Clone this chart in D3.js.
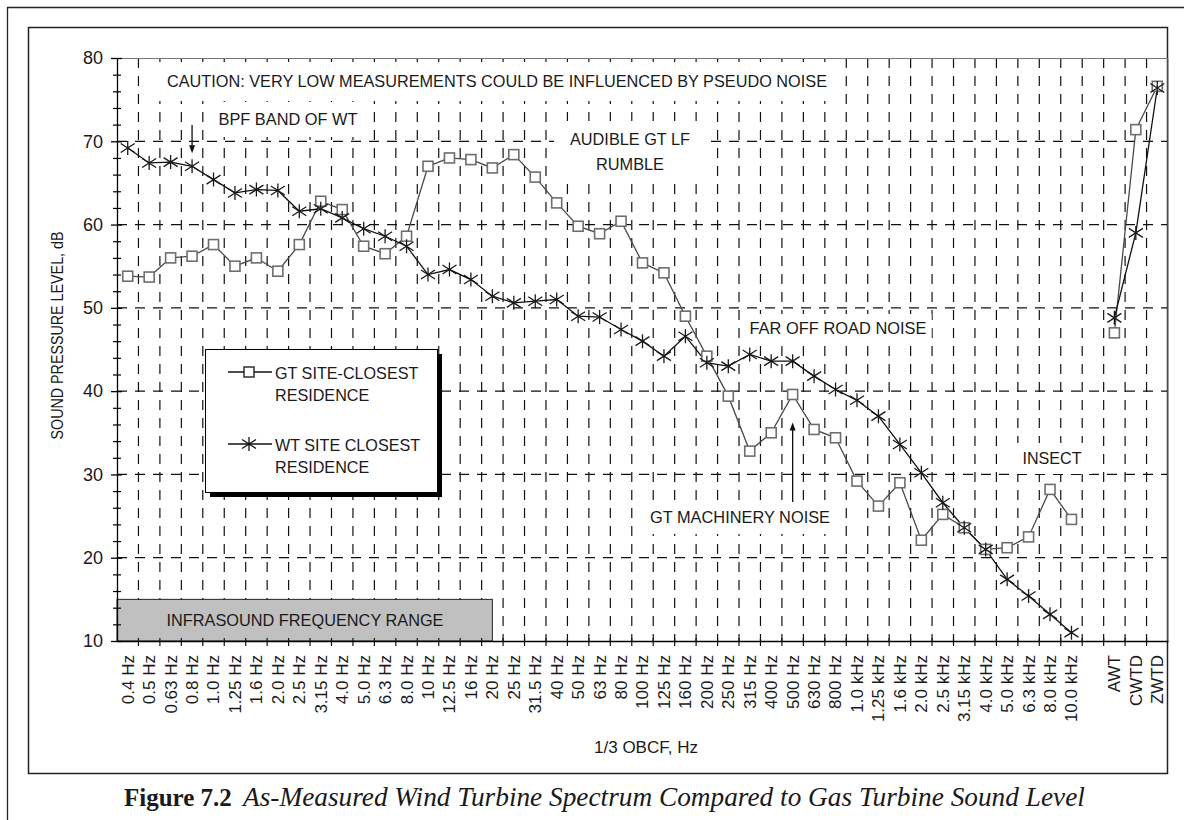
<!DOCTYPE html>
<html>
<head>
<meta charset="utf-8">
<script src="https://cdn.jsdelivr.net/npm/d3@7"></script>
<style>
  body { margin: 0; background: #fff; }
  svg text { font-family: "Liberation Sans Narrow", "Arial Narrow", "Liberation Sans", Arial, sans-serif; fill: #1a1a1a; }
  svg text.cap { font-family: "Liberation Serif", "Times New Roman", serif; }
</style>
</head>
<body>
<div id="chart"></div>
<script>
// 1/3 octave band centre frequencies, then a blank slot and the weighted totals
var bands = ["0.4 Hz", "0.5 Hz", "0.63 Hz", "0.8 Hz", "1.0 Hz", "1.25 Hz", "1.6 Hz", "2.0 Hz", "2.5 Hz", "3.15 Hz",
  "4.0 Hz", "5.0 Hz", "6.3 Hz", "8.0 Hz", "10 Hz", "12.5 Hz", "16 Hz", "20 Hz", "25 Hz", "31.5 Hz",
  "40 Hz", "50 Hz", "63 Hz", "80 Hz", "100 Hz", "125 Hz", "160 Hz", "200 Hz", "250 Hz", "315 Hz",
  "400 Hz", "500 Hz", "630 Hz", "800 Hz", "1.0 kHz", "1.25 kHz", "1.6 kHz", "2.0 kHz", "2.5 kHz", "3.15 kHz",
  "4.0 kHz", "5.0 kHz", "6.3 kHz", "8.0 kHz", "10.0 kHz", "", "AWT", "CWTD", "ZWTD"];

// GT site - closest residence (dB)
var gtLevels = [53.8, 53.7, 56.0, 56.2, 57.6, 55.0, 56.0, 54.4, 57.6, 62.8,
  61.8, 57.4, 56.5, 58.6, 67.0, 68.0, 67.8, 66.8, 68.4, 65.7,
  62.6, 59.8, 58.9, 60.4, 55.4, 54.2, 49.0, 44.2, 39.4, 32.8,
  35.0, 39.6, 35.4, 34.4, 29.2, 26.2, 29.0, 22.1, 25.2, 23.6,
  21.0, 21.2, 22.5, 28.2, 24.6, null, 47.0, 71.4, 76.6];

// WT site closest residence (dB)
var wtLevels = [69.2, 67.4, 67.5, 67.0, 65.4, 63.8, 64.2, 64.1, 61.6, 61.9,
  60.8, 59.5, 58.6, 57.4, 54.0, 54.6, 53.4, 51.4, 50.6, 50.8,
  51.0, 49.0, 48.9, 47.4, 46.0, 44.2, 46.6, 43.4, 43.0, 44.4,
  43.6, 43.6, 41.8, 40.2, 38.9, 37.0, 33.6, 30.2, 26.6, 23.6,
  21.0, 17.4, 15.4, 13.2, 11.0, null, 48.8, 59.0, 76.4];

var yMajor = [10, 20, 30, 40, 50, 60, 70, 80];
var seriesNames = ["GT SITE-CLOSEST\nRESIDENCE", "WT SITE CLOSEST\nRESIDENCE"];

var svgWidth = 1184;
var svgHeight = 820;
var margin = { top: 58, right: 16, bottom: 179, left: 117 };
var width = svgWidth - margin.left - margin.right;
var height = svgHeight - margin.top - margin.bottom;

var svg = d3.select("#chart").append("svg")
  .attr("width", svgWidth)
  .attr("height", svgHeight);

// squeeze a text to a given length (the original uses a narrow face)
function fit(sel, len) {
  sel.attr("textLength", len).attr("lengthAdjust", "spacingAndGlyphs");
}

// page frames
svg.append("path")
  .attr("d", "M7.5,820 V7.5 H1184")
  .attr("fill", "none").attr("stroke", "#222").attr("stroke-width", 1.3);
svg.append("rect")
  .attr("x", 28.5).attr("y", 27.5).attr("width", 1139).attr("height", 746)
  .attr("fill", "none").attr("stroke", "#222").attr("stroke-width", 1.5);

var chartGroup = svg.append("g")
  .attr("transform", `translate(${margin.left}, ${margin.top})`);

var x = d3.scaleBand().domain(bands).range([0, width]);
var y = d3.scaleLinear().domain([10, 80]).range([height, 0]);
var cx = b => x(b) + x.bandwidth() / 2;

// grid
chartGroup.append("g").selectAll("line")
  .data(bands.slice(1))
  .enter().append("line")
  .attr("x1", d => x(d)).attr("x2", d => x(d))
  .attr("y1", 0).attr("y2", height)
  .attr("stroke", "#111").attr("stroke-width", 1.2)
  .attr("stroke-dasharray", "10,8");

chartGroup.append("g").selectAll("line")
  .data(yMajor.slice(1, -1))
  .enter().append("line")
  .attr("x1", 0).attr("x2", width)
  .attr("y1", d => y(d)).attr("y2", d => y(d))
  .attr("stroke", "#111").attr("stroke-width", 1.2)
  .attr("stroke-dasharray", "10,8");

// top and right border of plot
chartGroup.append("path")
  .attr("d", `M0,0.5 H${width} V${height}`)
  .attr("fill", "none").attr("stroke", "#777").attr("stroke-width", 1);

// infrasound range box
chartGroup.append("rect")
  .attr("x", 0).attr("y", y(15))
  .attr("width", cx("20 Hz")).attr("height", height - y(15))
  .attr("fill", "#c0c0c0").attr("stroke", "#222").attr("stroke-width", 1);
chartGroup.append("text")
  .attr("x", 188).attr("y", (y(15) + height) / 2)
  .attr("dy", "0.36em").attr("text-anchor", "middle")
  .style("font-size", "17px")
  .text("INFRASOUND FREQUENCY RANGE")
  .call(fit, 277);

// annotations with white text boxes
var notes = [
  { lines: ["CAUTION: VERY LOW MEASUREMENTS COULD BE INFLUENCED BY PSEUDO NOISE"], w: [660], x: 380, y: 29, px: 16, py: 10 },
  { lines: ["BPF BAND OF WT"], w: [139], x: 171, y: 67, px: 12, py: 8 },
  { lines: ["AUDIBLE GT LF", "RUMBLE"], w: [120, 68], x: 513, y: 87, px: 16, py: 9 },
  { lines: ["FAR OFF ROAD NOISE"], w: [177], x: 721, y: 276, px: 5, py: 5 },
  { lines: ["GT MACHINERY NOISE"], w: [180], x: 623, y: 465, px: 14, py: 7 },
  { lines: ["INSECT"], w: [59], x: 935, y: 406, px: 10, py: 6 }
];

notes.forEach(n => {
  var g = chartGroup.append("g");
  var box = g.append("rect").attr("fill", "#fff");
  var texts = n.lines.map((l, i) => g.append("text")
    .attr("x", n.x).attr("y", n.y + i * 25)
    .attr("text-anchor", "middle").style("font-size", "17px")
    .text(l).call(fit, n.w[i]));
  var x0 = d3.min(texts, t => t.node().getBBox().x);
  var x1 = d3.max(texts, t => t.node().getBBox().x + t.node().getBBox().width);
  var y0 = texts[0].node().getBBox().y;
  var last = texts[texts.length - 1].node().getBBox();
  box.attr("x", x0 - n.px).attr("y", y0 - n.py)
    .attr("width", x1 - x0 + 2 * n.px).attr("height", last.y + last.height - y0 + 2 * n.py);
});

// arrows
function arrow(xPos, yFrom, yTo) {
  var dir = yTo > yFrom ? 1 : -1;
  chartGroup.append("line")
    .attr("x1", xPos).attr("x2", xPos).attr("y1", yFrom).attr("y2", yTo - dir * 6)
    .attr("stroke", "#111").attr("stroke-width", 1.3);
  chartGroup.append("path")
    .attr("d", `M${xPos},${yTo} L${xPos - 3},${yTo - dir * 8} L${xPos + 3},${yTo - dir * 8} Z`)
    .attr("fill", "#111");
}
arrow(cx("0.8 Hz"), 67, y(wtLevels[3]) - 13);
arrow(cx("500 Hz"), 444, y(gtLevels[31]) + 28);

// axes
var yAxis = chartGroup.append("g")
  .call(d3.axisLeft(y).tickValues(yMajor).tickSizeInner(6).tickSizeOuter(0).tickPadding(8));
yAxis.selectAll(".tick line").attr("x1", 5).attr("stroke-width", 1.3);
yAxis.selectAll(".tick text").style("font-size", "18px").attr("fill", "#1a1a1a");
yAxis.select(".domain").attr("stroke-width", 1.3);

var yMinor = chartGroup.append("g")
  .call(d3.axisLeft(y).tickValues(d3.range(12, 80, 2).filter(v => v % 10 !== 0))
    .tickSize(4).tickSizeOuter(0).tickFormat(""));
yMinor.selectAll(".tick line").attr("x1", 4).attr("stroke-width", 1.2);
yMinor.select(".domain").remove();

var xAxis = chartGroup.append("g")
  .attr("transform", `translate(0, ${height})`)
  .call(d3.axisBottom(x).tickSize(0).tickSizeOuter(0).tickPadding(0));
xAxis.select(".domain").attr("stroke-width", 1.5);
xAxis.selectAll(".tick text")
  .attr("transform", "rotate(-90)")
  .attr("x", -14).attr("y", 0).attr("dy", "0.35em")
  .style("text-anchor", "end").style("font-size", "17px").attr("fill", "#1a1a1a");

xAxis.append("g").selectAll("line")
  .data(bands.slice(1))
  .enter().append("line")
  .attr("x1", d => x(d)).attr("x2", d => x(d))
  .attr("y1", -3).attr("y2", 5)
  .attr("stroke", "#111").attr("stroke-width", 1.2);

// axis titles
chartGroup.append("text")
  .attr("transform", `translate(-54, ${height / 2 - 14}) rotate(-90)`)
  .attr("text-anchor", "middle")
  .style("font-size", "17px")
  .text("SOUND PRESSURE LEVEL, dB")
  .call(fit, 208);

chartGroup.append("text")
  .attr("x", 529).attr("y", height + 112)
  .attr("text-anchor", "middle")
  .style("font-size", "17px")
  .text("1/3 OBCF, Hz")
  .call(fit, 104);

// series
var gtData = bands.map((b, i) => ({ band: b, v: gtLevels[i] }));
var wtData = bands.map((b, i) => ({ band: b, v: wtLevels[i] }));

var line = d3.line()
  .defined(d => d.v != null)
  .x(d => cx(d.band))
  .y(d => y(d.v));

chartGroup.append("path").datum(gtData)
  .attr("d", line).attr("fill", "none")
  .attr("stroke", "#4a4a4a").attr("stroke-width", 1.3);
chartGroup.append("path").datum(wtData)
  .attr("d", line).attr("fill", "none")
  .attr("stroke", "#111").attr("stroke-width", 1.3);

var starPath = "M0,-7 V7 M-7,-4.5 L7,4.5 M-7,4.5 L7,-4.5";

chartGroup.append("g").selectAll("rect")
  .data(gtData.filter(d => d.v != null))
  .enter().append("rect")
  .attr("x", d => cx(d.band) - 5).attr("y", d => y(d.v) - 5)
  .attr("width", 10).attr("height", 10)
  .attr("fill", "#fff").attr("stroke", "#6e6e6e").attr("stroke-width", 1.6);

chartGroup.append("g").selectAll("path")
  .data(wtData.filter(d => d.v != null))
  .enter().append("path")
  .attr("transform", d => `translate(${cx(d.band)}, ${y(d.v)})`)
  .attr("d", starPath)
  .attr("fill", "none").attr("stroke", "#1a1a1a").attr("stroke-width", 1.3);

// legend
var legend = svg.append("g").attr("transform", "translate(205, 349)");
legend.append("rect").attr("x", 5).attr("y", 5).attr("width", 232).attr("height", 143).attr("fill", "#000");
legend.append("rect").attr("x", 0.5).attr("y", 0.5).attr("width", 232).attr("height", 143)
  .attr("fill", "#fff").attr("stroke", "#000").attr("stroke-width", 1);

seriesNames.forEach((name, i) => {
  var ly = 23 + i * 72;
  legend.append("line").attr("x1", 23).attr("x2", 67).attr("y1", ly).attr("y2", ly)
    .attr("stroke", "#111").attr("stroke-width", 1.3);
  if (i === 0) {
    legend.append("rect").attr("x", 39).attr("y", ly - 5).attr("width", 10).attr("height", 10)
      .attr("fill", "#fff").attr("stroke", "#222").attr("stroke-width", 1.4);
  } else {
    legend.append("path").attr("transform", `translate(44, ${ly})`).attr("d", starPath)
      .attr("fill", "none").attr("stroke", "#111").attr("stroke-width", 1.3);
  }
  name.split("\n").forEach((part, j) => {
    var t = legend.append("text").attr("x", 70).attr("y", ly + 7 + j * 22)
      .style("font-size", "17px").text(part);
    t.call(fit, t.node().getComputedTextLength() * 0.95);
  });
});

// caption
var cap = svg.append("text").attr("class", "cap").attr("y", 806);
cap.append("tspan").attr("x", 124).style("font-weight", "bold").style("font-size", "25px")
  .text("Figure 7.2");
cap.append("tspan").attr("x", 243).style("font-style", "italic").style("font-size", "27.3px")
  .text("As-Measured Wind Turbine Spectrum Compared to Gas Turbine Sound Level");
</script>
</body>
</html>
